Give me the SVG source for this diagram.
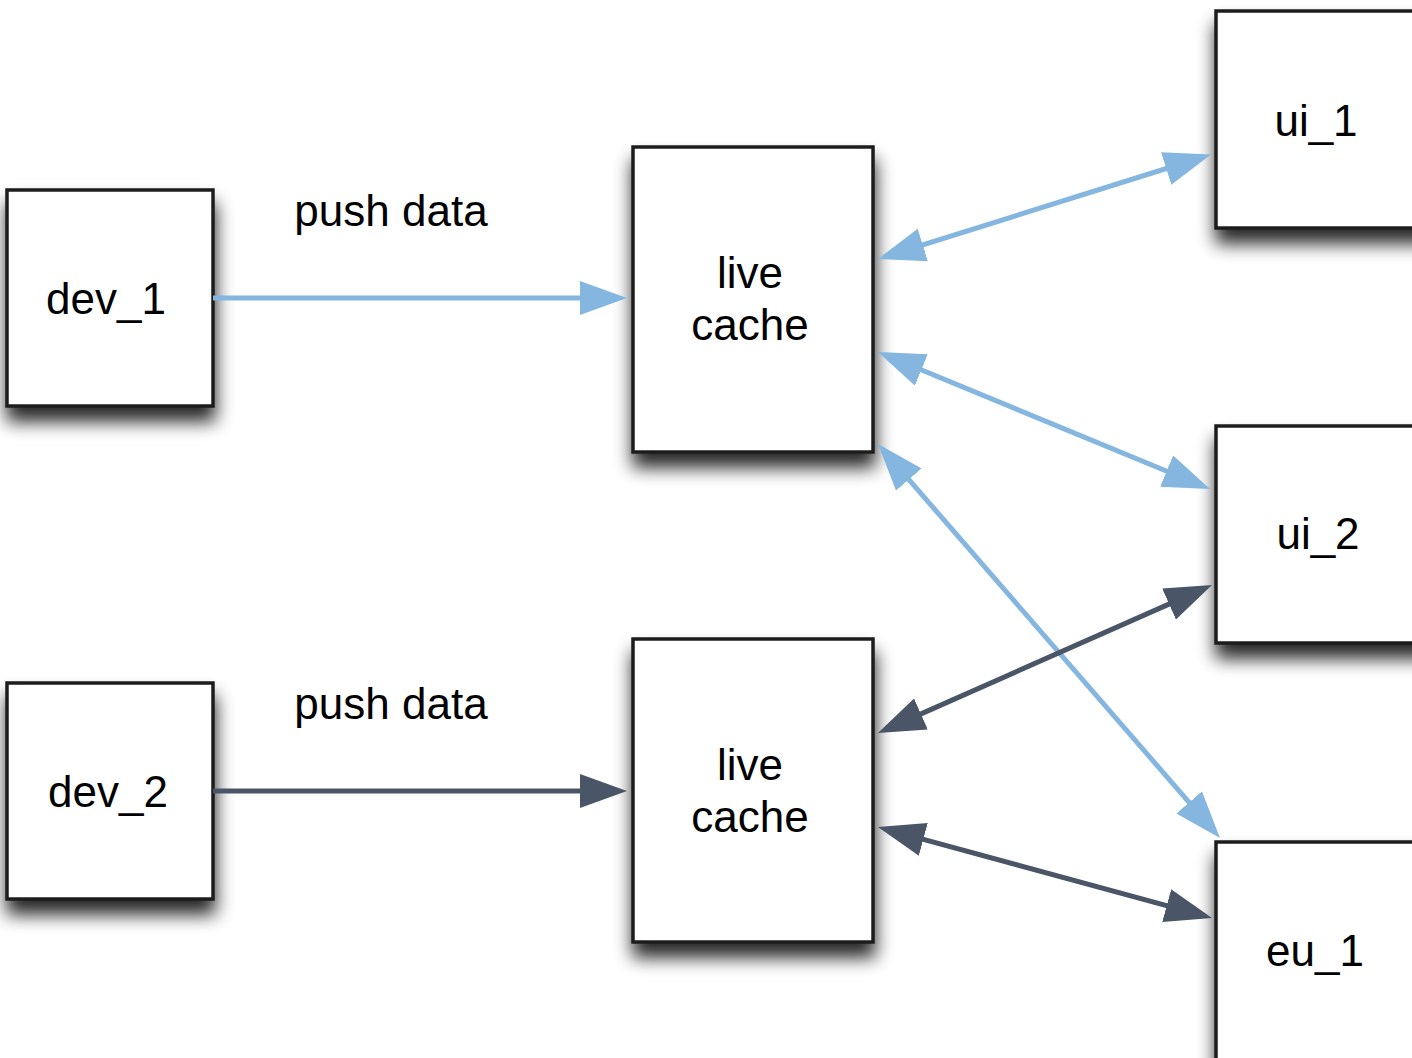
<svg xmlns="http://www.w3.org/2000/svg" width="1412" height="1058" viewBox="0 0 1412 1058">
  <style>
    .box { fill: #ffffff; stroke: #1e1e1e; stroke-width: 3.5; filter: url(#shadow); }
    .label { font-family: "Liberation Sans", Arial, sans-serif; font-size: 44px; fill: #000000; text-anchor: middle; }
    .light { stroke: #84b6df; stroke-width: 5; fill: none; }
    .dark { stroke: #4a5568; stroke-width: 5; fill: none; }
  </style>
  <defs>
    <filter id="shadow" x="-30%" y="-30%" width="160%" height="170%">
      <feGaussianBlur in="SourceAlpha" stdDeviation="9"/>
      <feOffset dx="1" dy="14" result="blur"/>
      <feComponentTransfer>
        <feFuncA type="linear" slope="0.85"/>
      </feComponentTransfer>
      <feMerge>
        <feMergeNode/>
        <feMergeNode in="SourceGraphic"/>
      </feMerge>
    </filter>
    <marker id="arrLight" markerUnits="userSpaceOnUse" markerWidth="48" markerHeight="36" viewBox="0 0 48 36" refX="37" refY="17" orient="auto-start-reverse">
      <path d="M0,0 L47,17 L0,34 z" fill="#84b6df"/>
    </marker>
    <marker id="arrDark" markerUnits="userSpaceOnUse" markerWidth="48" markerHeight="36" viewBox="0 0 48 36" refX="37" refY="17" orient="auto-start-reverse">
      <path d="M0,0 L47,17 L0,34 z" fill="#4a5568"/>
    </marker>
  </defs>
  <rect width="1412" height="1058" fill="#ffffff"/>

  <!-- nodes -->
  <g id="dev_1">
    <rect class="box" x="7" y="190" width="206" height="216"/>
    <text class="label" x="106" y="314">dev_1</text>
  </g>
  <g id="dev_2">
    <rect class="box" x="7" y="683" width="206" height="216"/>
    <text class="label" x="108" y="807">dev_2</text>
  </g>
  <g id="live_cache_1">
    <rect class="box" x="633" y="147" width="240" height="305"/>
    <text class="label" x="750" y="288">live</text>
    <text class="label" x="750" y="340">cache</text>
  </g>
  <g id="live_cache_2">
    <rect class="box" x="633" y="639" width="240" height="303"/>
    <text class="label" x="750" y="780">live</text>
    <text class="label" x="750" y="832">cache</text>
  </g>
  <g id="ui_1">
    <rect class="box" x="1216" y="11" width="220" height="217"/>
    <text class="label" x="1316" y="136">ui_1</text>
  </g>
  <g id="ui_2">
    <rect class="box" x="1216" y="426" width="220" height="217"/>
    <text class="label" x="1318" y="549">ui_2</text>
  </g>
  <g id="eu_1">
    <rect class="box" x="1216" y="842" width="220" height="240"/>
    <text class="label" x="1315" y="966">eu_1</text>
  </g>

  <!-- connectors -->
  <g id="connectors">
    <line class="light" x1="213" y1="298" x2="617" y2="298" marker-end="url(#arrLight)"/>
    <line class="dark" x1="213" y1="791" x2="617" y2="791" marker-end="url(#arrDark)"/>
    <line class="light" x1="887.5" y1="256" x2="1201.5" y2="157.5" marker-start="url(#arrLight)" marker-end="url(#arrLight)"/>
    <line class="light" x1="887.2" y1="355.8" x2="1200.8" y2="485.2" marker-start="url(#arrLight)" marker-end="url(#arrLight)"/>
    <line class="light" x1="884.6" y1="451.6" x2="1213.4" y2="830.4" marker-start="url(#arrLight)" marker-end="url(#arrLight)"/>
    <line class="dark" x1="887.1" y1="728.9" x2="1202.9" y2="589.1" marker-start="url(#arrDark)" marker-end="url(#arrDark)"/>
    <line class="dark" x1="887.6" y1="829.7" x2="1202.4" y2="915.3" marker-start="url(#arrDark)" marker-end="url(#arrDark)"/>
  </g>
  <g id="edge_labels">
    <text class="label" x="391" y="226">push data</text>
    <text class="label" x="391" y="719">push data</text>
  </g>
</svg>
